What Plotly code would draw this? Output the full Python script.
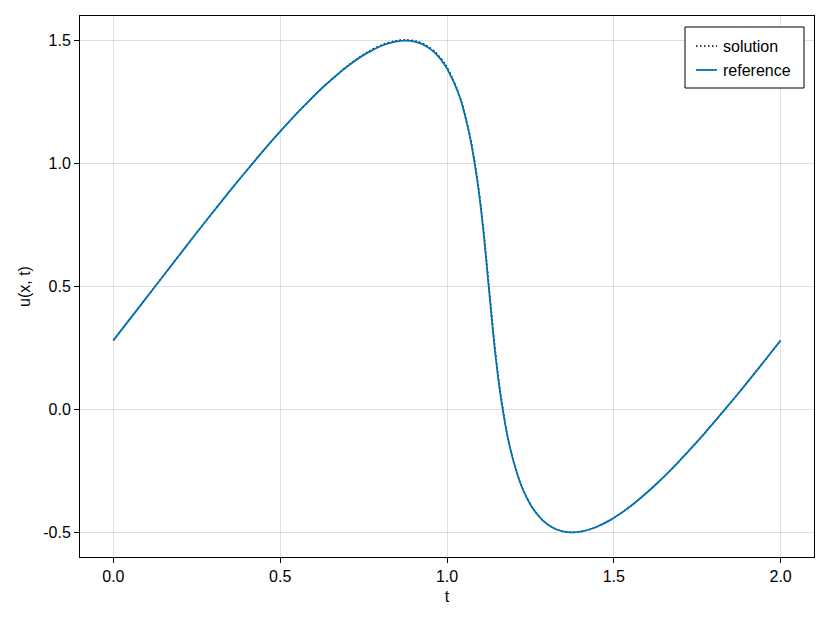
import plotly.graph_objects as go

# reference curve
ref_x = [0.0, 0.068, 0.125, 0.182, 0.239, 0.297, 0.356, 0.417, 0.480, 0.547, 0.583, 0.620,
         0.661, 0.706, 0.761, 0.806, 0.842, 0.875, 0.906, 0.934, 0.964, 0.994, 1.014, 1.030,
         1.043, 1.053, 1.070, 1.083, 1.094, 1.103, 1.111, 1.118, 1.125, 1.132, 1.139, 1.147,
         1.156, 1.167, 1.180, 1.197, 1.208, 1.220, 1.236, 1.256, 1.286, 1.316, 1.344, 1.375,
         1.408, 1.444, 1.489, 1.544, 1.589, 1.630, 1.668, 1.703, 1.770, 1.833, 1.894, 1.953, 2.0]
ref_u = [0.281, 0.4, 0.5, 0.6, 0.7, 0.8, 0.9, 1.0, 1.1, 1.2, 1.25, 1.3,
         1.35, 1.4, 1.45, 1.48, 1.495, 1.5, 1.495, 1.48, 1.45, 1.4, 1.35, 1.3,
         1.25, 1.2, 1.1, 1.0, 0.9, 0.8, 0.7, 0.6, 0.5, 0.4, 0.3, 0.2,
         0.1, 0.0, -0.1, -0.2, -0.25, -0.3, -0.35, -0.4, -0.45, -0.48, -0.495, -0.5,
         -0.495, -0.48, -0.45, -0.4, -0.35, -0.3, -0.25, -0.2, -0.1, 0.0, 0.1, 0.2, 0.281]

# numerical solution (dotted), nearly identical, slightly ahead near the front
sol_x = [0.0, 0.068, 0.125, 0.182, 0.239, 0.297, 0.356, 0.417, 0.480, 0.547, 0.583, 0.620,
         0.661, 0.706, 0.761, 0.806, 0.842, 0.875, 0.907, 0.935, 0.965, 0.995, 1.015, 1.031,
         1.044, 1.054, 1.071, 1.084, 1.095, 1.104, 1.112, 1.119, 1.126, 1.133, 1.140, 1.148,
         1.157, 1.168, 1.180, 1.197, 1.208, 1.220, 1.236, 1.256, 1.286, 1.316, 1.344, 1.375,
         1.408, 1.444, 1.489, 1.544, 1.589, 1.630, 1.668, 1.703, 1.770, 1.833, 1.894, 1.953, 2.0]
sol_u = [0.281, 0.4, 0.5, 0.6, 0.7, 0.8, 0.9, 1.0, 1.1, 1.2, 1.25, 1.3,
         1.35, 1.402, 1.453, 1.483, 1.498, 1.503, 1.498, 1.483, 1.453, 1.403, 1.351, 1.3,
         1.25, 1.2, 1.1, 1.0, 0.9, 0.8, 0.7, 0.6, 0.5, 0.4, 0.3, 0.2,
         0.1, 0.0, -0.1, -0.2, -0.25, -0.3, -0.35, -0.4, -0.45, -0.48, -0.495, -0.5,
         -0.495, -0.48, -0.45, -0.4, -0.35, -0.3, -0.25, -0.2, -0.1, 0.0, 0.1, 0.2, 0.281]

x_ticks = [0.0, 0.5, 1.0, 1.5, 2.0]
x_tick_labels = ["0.0", "0.5", "1.0", "1.5", "2.0"]
y_ticks = [-0.5, 0.0, 0.5, 1.0, 1.5]
y_tick_labels = ["-0.5", "0.0", "0.5", "1.0", "1.5"]
series_names = ["solution", "reference"]

BLUE = "#0072B2"
FONT = "Liberation Sans, Arial, sans-serif"
DOT = "1.5px,2.5px"

fig = go.Figure()
fig.add_trace(go.Scatter(x=sol_x, y=sol_u, mode="lines", name=series_names[0],
                         line=dict(color="black", width=1.5, dash=DOT, shape="spline", smoothing=0.8),
                         showlegend=False))
fig.add_trace(go.Scatter(x=ref_x, y=ref_u, mode="lines", name=series_names[1],
                         line=dict(color=BLUE, width=1.8, shape="spline", smoothing=0.8),
                         showlegend=False))

# page body has an 8px margin: work in figure coordinates = window px - 8
OFF = 8
W, H = 830 - OFF, 623 - OFF
L, R, T, B = 80 - OFF, 814 - OFF, 16 - OFF, 557 - OFF
pw, ph = R - L, B - T

def px(xp):
    return (xp - OFF - L) / pw

def py(yp):
    return (B - (yp - OFF)) / ph

# manual legend (Makie style), positions in window pixels
lx0, lx1, ly0, ly1 = 685, 804, 27, 88
fig.add_shape(type="rect", xref="paper", yref="paper",
              x0=px(lx0), x1=px(lx1), y0=py(ly1), y1=py(ly0),
              line=dict(color="black", width=1), fillcolor="white", layer="above")
rows = [46, 70]
styles = [dict(color="black", width=1.5, dash=DOT), dict(color=BLUE, width=1.8)]
for name, yr, st in zip(series_names, rows, styles):
    fig.add_shape(type="line", xref="paper", yref="paper",
                  x0=px(696), x1=px(717), y0=py(yr), y1=py(yr), line=st, layer="above")
    fig.add_annotation(xref="paper", yref="paper", x=px(721), y=py(yr), text=name,
                       showarrow=False, xanchor="left", yanchor="middle",
                       font=dict(family=FONT, size=16, color="black"))

fig.update_layout(
    width=W, height=H,
    margin=dict(l=L, r=W - R, t=T, b=H - B, autoexpand=False),
    paper_bgcolor="white", plot_bgcolor="white",
    font=dict(family=FONT, size=16, color="black"),
)
fig.update_xaxes(range=[-0.1, 2.1], tickvals=x_ticks, ticktext=x_tick_labels,
                 showgrid=True, gridcolor="rgba(0,0,0,0.12)", gridwidth=1,
                 zeroline=False, showline=True, linecolor="black", linewidth=1, mirror=True,
                 ticks="outside", ticklen=5, tickcolor="black", tickwidth=1,
                 title=dict(text="t", standoff=6, font=dict(size=16)))
fig.update_yaxes(range=[-0.6, 1.6], tickvals=y_ticks, ticktext=y_tick_labels,
                 showgrid=True, gridcolor="rgba(0,0,0,0.12)", gridwidth=1,
                 zeroline=False, showline=True, linecolor="black", linewidth=1, mirror=True,
                 ticks="outside", ticklen=5, tickcolor="black", tickwidth=1,
                 title=dict(text="u(x, t)", standoff=8, font=dict(size=16)))

fig.write_html("out.html")
